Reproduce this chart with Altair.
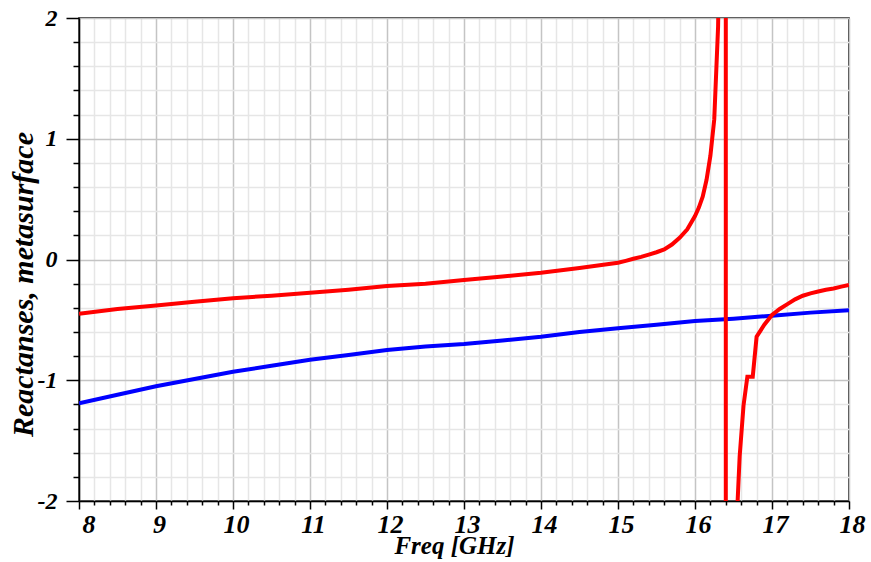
import altair as alt
import pandas as pd

# Metasurface reactance (normalised) versus frequency
blue_freq = [8.0, 8.5, 9.0, 9.5, 10.0, 10.5, 11.0, 11.5, 12.0, 12.5, 13.0,
             13.5, 14.0, 14.5, 15.0, 15.5, 16.0, 16.5, 17.0, 17.5, 18.0]
blue_x = [-1.19, -1.12, -1.05, -0.99, -0.93, -0.88, -0.83, -0.79, -0.75, -0.72, -0.70,
          -0.67, -0.64, -0.60, -0.57, -0.54, -0.51, -0.49, -0.465, -0.44, -0.42]

red_freq = [8.0, 8.5, 9.0, 9.5, 10.0, 10.5, 11.0, 11.5, 12.0, 12.5, 13.0,
            13.5, 14.0, 14.5, 15.0, 15.1, 15.2, 15.3, 15.4, 15.5, 15.6, 15.7,
            15.8, 15.9, 16.0, 16.05, 16.1, 16.15, 16.2, 16.25, 16.3, 16.35,
            16.4, 16.4, 16.45, 16.5, 16.55, 16.58, 16.63, 16.68, 16.75, 16.8,
            16.9, 17.0, 17.1, 17.2, 17.3, 17.4, 17.5, 17.6, 17.7, 17.8, 17.9, 18.0]
red_x = [-0.45, -0.41, -0.38, -0.35, -0.32, -0.30, -0.275, -0.25, -0.22, -0.20, -0.17,
         -0.14, -0.11, -0.07, -0.027, -0.011, 0.006, 0.022, 0.041, 0.06, 0.083, 0.124,
         0.18, 0.25, 0.36, 0.43, 0.52, 0.66, 0.86, 1.16, 1.93, 4.0,
         60.0, -60.0, -8.0, -3.2, -2.05, -1.63, -1.21, -0.97, -0.97, -0.64,
         -0.54, -0.46, -0.41, -0.37, -0.33, -0.30, -0.28, -0.265, -0.25, -0.24, -0.225, -0.21]

x_ticks = [round(8 + 0.2 * i, 1) for i in range(51)]
y_ticks = [round(-2 + 0.2 * i, 1) for i in range(21)]

blue_df = pd.DataFrame({"freq": blue_freq, "x": blue_x, "i": range(len(blue_freq))})
red_df = pd.DataFrame({"freq": red_freq, "x": red_x, "i": range(len(red_freq))})

MAJOR = "abs(datum.value - round(datum.value)) < 0.001"
LABEL = MAJOR + " ? toString(round(datum.value)) : ''"
FONT = "Liberation Serif"

x_axis = alt.Axis(
    values=x_ticks,
    labelExpr=LABEL,
    labelOverlap=False,
    labelFlush=False,
    labelAlign={"condition": {"test": "datum.value == 8", "value": "left"}, "value": "center"},
    labelOffset=3,
    labelFont=FONT, labelFontSize=26, labelFontWeight="bold", labelFontStyle="italic",
    labelColor="black", labelPadding=2,
    tickSize={"condition": {"test": MAJOR, "value": 8}, "value": 4},
    tickColor="black", tickWidth=1.5,
    domainColor="black", domainWidth=1.5,
    gridColor={"condition": {"test": MAJOR, "value": "#c4c4c4"}, "value": "#e6e6e6"},
    gridWidth=1.5,
    title="Freq [GHz]",
    titleFont=FONT, titleFontSize=25, titleFontWeight="bold", titleFontStyle="italic",
    titleColor="black", titleX=375, titleY=52, titleBaseline="alphabetic",
)

y_axis = alt.Axis(
    values=y_ticks,
    labelExpr=LABEL,
    labelOverlap=False,
    labelFlush=False,
    labelFont=FONT, labelFontSize=24, labelFontWeight="bold", labelFontStyle="italic",
    labelColor="black", labelPadding=9,
    tickSize={"condition": {"test": MAJOR, "value": 13}, "value": 6},
    tickColor="black", tickWidth=1.5,
    domainColor="black", domainWidth=1.5,
    gridColor={"condition": {"test": MAJOR, "value": "#c4c4c4"}, "value": "#e6e6e6"},
    gridWidth=1.5,
    title="Reactanses, metasurface",
    titleFont=FONT, titleFontSize=30, titleFontWeight="bold", titleFontStyle="italic",
    titleColor="black", titleX=-47, titleY=266, titleBaseline="alphabetic",
)

x_enc = alt.X("freq:Q", scale=alt.Scale(domain=[8, 18], nice=False, zero=False), axis=x_axis)
y_enc = alt.Y("x:Q", scale=alt.Scale(domain=[-2, 2], nice=False, zero=False), axis=y_axis)

blue = alt.Chart(blue_df).mark_line(color="#0000ff", strokeWidth=4, clip=True).encode(
    x=x_enc, y=y_enc, order="i:Q"
)
red = alt.Chart(red_df).mark_line(color="#ff0000", strokeWidth=4, clip=True).encode(
    x=x_enc, y=y_enc, order="i:Q"
)

chart = alt.layer(blue, red).properties(
    width=770,
    height=483,
    autosize=alt.AutoSizeParams(type="none"),
    padding={"left": 79, "top": 18, "right": 22, "bottom": 61},
    background="white",
).configure_view(stroke="black", strokeWidth=1.5)

chart.save("out.html", embed_options={"renderer": "svg", "actions": False})
